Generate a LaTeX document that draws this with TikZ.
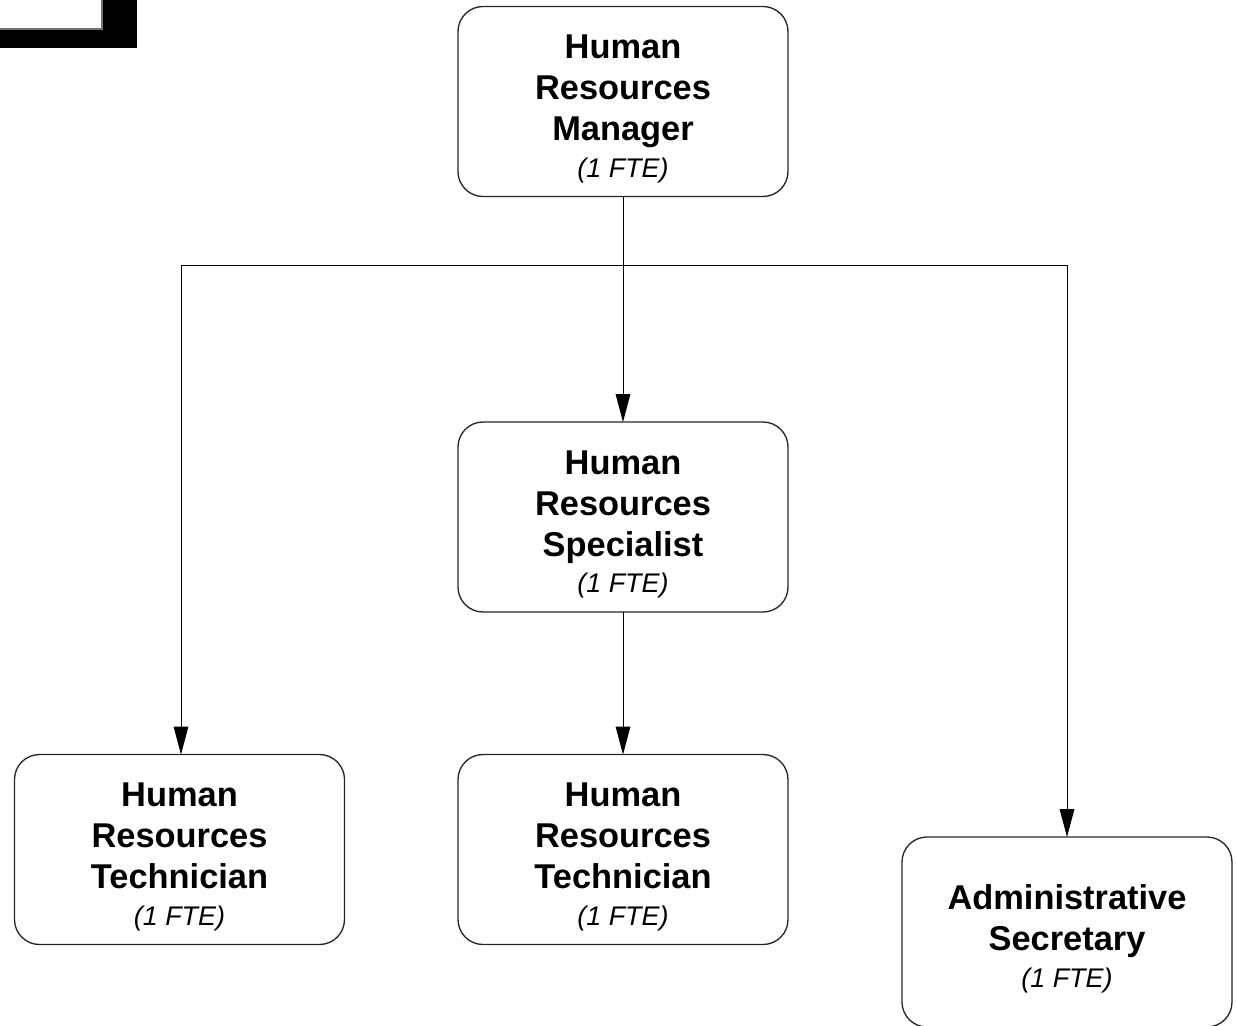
\documentclass[tikz,border=0pt]{standalone}
\usepackage{fontspec}
\setmainfont{Liberation Sans}
\usetikzlibrary{arrows.meta}
\tikzset{
  post/.style={draw=black!85, line width=1pt, rounded corners=18.75pt,
    minimum width=247.5pt, minimum height=142.5pt, inner sep=0pt, outer sep=0pt,
    align=center, font=\fontsize{25.8}{30.75}\selectfont\bfseries},
  link/.style={draw=black, line width=0.75pt},
  tolink/.style={link, -{Triangle[length=21pt, width=11pt]}},
}
% first-line strut lowers the text block slightly inside its box
\newcommand{\firstline}{\rule{0pt}{29pt}}
\newcommand{\fte}{\\[-3.3pt]{\fontsize{20.2}{29}\selectfont\mdseries\itshape (1 FTE)}}
\begin{document}
\begin{tikzpicture}[x=0.75pt, y=-0.75pt]
\useasboundingbox (0,0) rectangle (1237,1025);
\begin{scope}
\clip (0,0) rectangle (1237,1025);
% corner tab with drop shadow
\fill[black] (-100,-100) rectangle (137,48);
\filldraw[fill=white, draw=black!55, line width=0.9pt] (-100,-100) rectangle (102,29);

\node[post] (mgr)  at (623,101.5) {\firstline Human\\Resources\\Manager\fte};
\node[post] (spec) at (623,517)   {\firstline Human\\Resources\\Specialist\fte};
\node[post] (tech1) at (179.5,849.5) {\firstline Human\\Resources\\Technician\fte};
\node[post] (tech2) at (623,849.5)   {\firstline Human\\Resources\\Technician\fte};
\node[post] (admin) at (1067,932)    {\firstline Administrative\\Secretary\fte};

\coordinate (bl) at (181,265);
\coordinate (br) at (1067,265);
\draw[tolink] (mgr.south) -- (spec.north);
\draw[link] (bl) -- (br);
\draw[tolink] (bl) -- (bl |- tech1.north);
\draw[tolink] (br) -- (admin.north);
\draw[tolink] (spec.south) -- (tech2.north);
\end{scope}
\end{tikzpicture}
\end{document}
